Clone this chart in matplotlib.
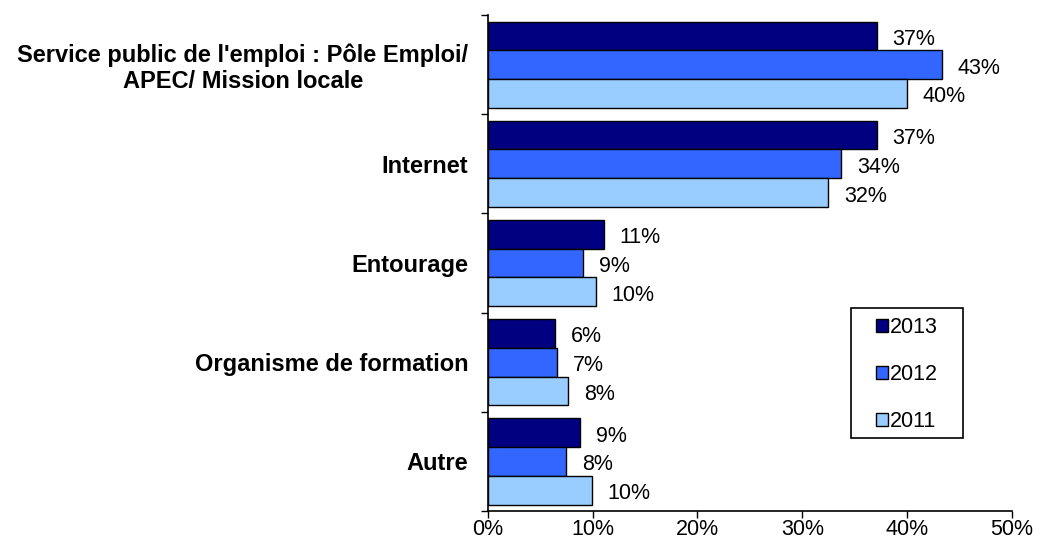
import matplotlib
matplotlib.use('Agg')
import matplotlib.pyplot as plt
from matplotlib.patches import Rectangle
from matplotlib.ticker import FuncFormatter
import numpy as np

plt.rcParams['font.family'] = ['Liberation Sans', 'DejaVu Sans']

categories = ["Service public de l'emploi : Pôle Emploi/\nAPEC/ Mission locale",
              "Internet", "Entourage", "Organisme de formation", "Autre"]
years = ["2013", "2012", "2011"]
v2013 = [37.1, 37.1, 11.1, 6.4, 8.8]
v2012 = [43.3, 33.7, 9.1, 6.6, 7.5]
v2011 = [40.0, 32.5, 10.3, 7.7, 9.9]
labels2013 = ["37%", "37%", "11%", "6%", "9%"]
labels2012 = ["43%", "34%", "9%", "7%", "8%"]
labels2011 = ["40%", "32%", "10%", "8%", "10%"]
colors = ["#000080", "#3366FF", "#99CCFF"]

fig = plt.figure(figsize=(10.4, 5.39), dpi=100)
ax = fig.add_axes([0.469, 0.052, 0.504, 0.92])

n = len(categories)
centers = np.arange(n)[::-1].astype(float)
h = 0.29
series = [(v2013, labels2013), (v2012, labels2012), (v2011, labels2011)]
for i, ((vals, labs), year, col) in enumerate(zip(series, years, colors)):
    ys = centers + (1 - i) * h
    ax.barh(ys, vals, height=h, color=col, edgecolor='black', linewidth=1, label=year)
    for y, v, lab in zip(ys, vals, labs):
        ax.text(v + 1.5, y - 0.035, lab, va='center', ha='left', fontsize=15.5)

ax.set_xlim(0, 50)
ax.set_ylim(-0.5, n - 0.5)
ax.set_xticks(np.arange(0, 51, 10))
ax.xaxis.set_major_formatter(FuncFormatter(lambda x, p: f"{x:.0f}%"))
ax.set_yticks(np.arange(-0.5, n, 1.0))
ax.set_yticklabels([])
ax.set_yticks(centers, minor=True)
ax.set_yticklabels(categories, minor=True, fontweight='bold', fontsize=17,
                   ha='right', multialignment='center', linespacing=1.15)
ax.tick_params(axis='y', which='minor', length=0, pad=14)
ax.tick_params(axis='y', which='major', length=5, width=1)
ax.tick_params(axis='x', length=5, width=1, labelsize=15.5, pad=1)
for s in ['top', 'right']:
    ax.spines[s].set_visible(False)
for s in ['left', 'bottom']:
    ax.spines[s].set_linewidth(1.2)

# legend box
ax.add_patch(Rectangle((0.693, 0.147), 0.213, 0.262, transform=ax.transAxes,
                       fill=False, edgecolor='black', linewidth=1.2, clip_on=False))
ax.legend(loc='center', bbox_to_anchor=(0.7995, 0.275), fontsize=15.5,
          handlelength=0.55, handleheight=0.55, handletextpad=0.1,
          labelspacing=1.2, borderpad=0, borderaxespad=0, frameon=False)

plt.savefig('out.png', dpi=100)
plt.close()
